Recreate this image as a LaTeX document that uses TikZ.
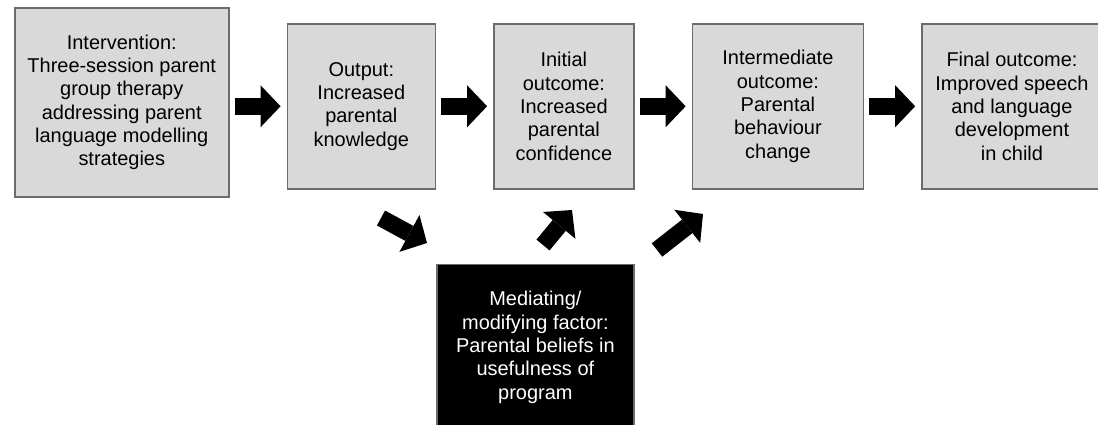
\documentclass[tikz,border=0pt]{standalone}
\usepackage{fontspec}
\setmainfont{Liberation Sans}
\usetikzlibrary{arrows.meta,positioning,shadows}
\definecolor{boxgray}{HTML}{D9D9D9}
\definecolor{edgegray}{HTML}{6B6B6B}
\tikzset{
    logic model/.style = {node distance=1.425cm},
    stage/.style       = {draw=edgegray, line width=1.1pt, fill=boxgray,
                          align=center, inner sep=2pt,
                          font=\fontsize{14.2}{16.6}\selectfont,
                          drop shadow={shadow xshift=0.7pt,
                                       shadow yshift=-0.9pt, opacity=0.3}},
    factor/.style      = {stage, fill=black, text=white},
    push/.style        = {line width=0.425cm,
                          -{Triangle[length=0.5cm, width=1.05cm,
                                     line width=0pt]}},
    hpush/.style       = {push, shorten <=0.125cm, shorten >=0.15cm}
}

\begin{document}
\begin{tikzpicture}[logic model]

\useasboundingbox (0,0) rectangle (27.45,-10.625);

% Top row: intervention through to final outcome
\node[stage, anchor=north west, minimum width=5.35cm, minimum height=4.725cm]
    (int) at (0.35,-0.175)
    {Intervention:\\Three-session parent\\group therapy\\addressing parent\\language modelling\\strategies};
\node[stage, minimum width=3.7cm, minimum height=4.125cm,
      right=of int, yshift=-0.1cm] (out)
    {Output:\\Increased\\parental\\knowledge};
\node[stage, minimum width=3.5cm, minimum height=4.125cm, right=of out] (ini)
    {Initial\\outcome:\\Increased\\parental\\confidence};
\node[stage, minimum width=4.275cm, minimum height=4.125cm, right=of ini] (mid)
    {Intermediate\\outcome:\\Parental\\behaviour\\change};
\node[stage, minimum width=4.5cm, minimum height=4.125cm, right=of mid] (fin)
    {Final outcome:\\Improved speech\\and language\\development\\in child};

% Mediating factor sits under output and initial outcome
\node[factor, minimum width=4.925cm, minimum height=4.15cm,
      below=1.85cm of out.south east, anchor=north west] (med)
    {Mediating/\\modifying factor:\\Parental beliefs in\\usefulness of\\program};

% Chain arrows
\draw[hpush] (int.east |- out.west) -- (out.west);
\draw[hpush] (out.east) -- (ini.west);
\draw[hpush] (ini.east) -- (mid.west);
\draw[hpush] (mid.east) -- (fin.west);

% Arrows into and out of the mediating factor
\coordinate (know-tail) at (9.525,-5.45);
\coordinate (know-tip)  at (10.675,-6.075);
\coordinate (conf-tail) at (13.575,-6.125);
\coordinate (conf-tip)  at (14.3,-5.25);
\coordinate (beh-tail)  at (16.425,-6.25);
\coordinate (beh-tip)   at (17.575,-5.35);
\draw[push] (know-tail) -- (know-tip);
\draw[push] (conf-tail) -- (conf-tip);
\draw[push] (beh-tail)  -- (beh-tip);

\end{tikzpicture}
\end{document}
